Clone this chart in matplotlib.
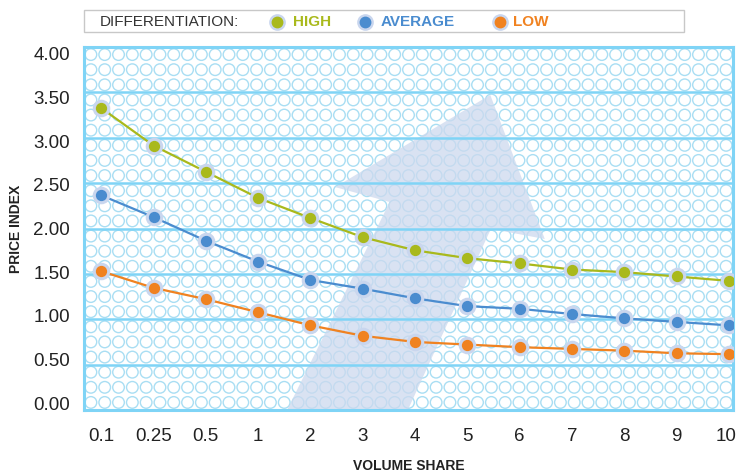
import matplotlib
matplotlib.use("Agg")
import matplotlib.pyplot as plt
import matplotlib.transforms as mtransforms
import numpy as np
from matplotlib.patches import Polygon, Rectangle

plt.rcParams['font.family'] = ['Liberation Sans Narrow', 'Liberation Sans', 'DejaVu Sans']

categories = ["0.1", "0.25", "0.5", "1", "2", "3", "4", "5", "6", "7", "8", "9", "10"]
high = [3.38, 2.95, 2.65, 2.35, 2.12, 1.90, 1.75, 1.66, 1.60, 1.53, 1.50, 1.45, 1.40]
average = [2.38, 2.13, 1.86, 1.62, 1.41, 1.31, 1.20, 1.11, 1.08, 1.02, 0.97, 0.93, 0.89]
low = [1.51, 1.32, 1.19, 1.04, 0.89, 0.77, 0.70, 0.67, 0.64, 0.62, 0.60, 0.57, 0.56]
yticks = [0.0, 0.5, 1.0, 1.5, 2.0, 2.5, 3.0, 3.5, 4.0]
series_names = ["HIGH", "AVERAGE", "LOW"]

c_high = "#a9b91c"
c_avg = "#4a8ccf"
c_low = "#f08220"
halo = "#c9d6ee"
grid_c = "#7fd4f6"
circ_c = "#a9def3"

fig = plt.figure(figsize=(7.36, 4.75), dpi=100)
ax = fig.add_axes([84/736, 1-410/475, 649/736, 363/475])
ax.set_xlim(-0.33, 12.08)
ax.set_ylim(-0.08, 4.08)

# background circle pattern
ncol, nband = 47, 8
xs = (np.arange(ncol) + 0.5) / ncol
ys = []
for b in range(nband):
    for r in range(3):
        ys.append((b + (r + 0.5) / 3) / nband)
X, Y = np.meshgrid(xs, ys)
ax.scatter(X.ravel(), Y.ravel(), s=70, facecolors='none', edgecolors=circ_c,
           linewidths=1.0, transform=ax.transAxes, zorder=1, clip_on=False)

# big arrow
arrow = [(0.626, 0.868), (0.710, 0.471), (0.627, 0.499), (0.499, 0.0),
         (0.313, 0.0), (0.471, 0.573), (0.387, 0.614)]
ax.add_patch(Polygon(arrow, closed=True, transform=ax.transAxes,
                     facecolor="#cdd9ee", edgecolor='none', alpha=0.75, zorder=1.2))

# horizontal bands
for k in range(1, nband):
    ax.plot([0, 1], [k/nband, k/nband], color=grid_c, lw=1.8,
            transform=ax.transAxes, zorder=1.5)
for s in ax.spines.values():
    s.set_color(grid_c)
    s.set_linewidth(2.2)

x = np.arange(len(categories))
for vals, col in [(high, c_high), (average, c_avg), (low, c_low)]:
    ax.plot(x, vals, color=col, lw=1.6, zorder=3)
    ax.scatter(x, vals, s=160, color=halo, zorder=3.5, linewidths=0)
    ax.scatter(x, vals, s=66, color=col, zorder=4, linewidths=0)

ax.set_xticks(x)
ax.set_xticklabels(categories)
ax.set_yticks(yticks)
ax.set_yticklabels([f"{v:.2f}" for v in yticks])
ax.tick_params(length=0, labelsize=13.5, colors="#222222")
ax.tick_params(axis='y', pad=10)
ax.tick_params(axis='x', pad=13)
last = ax.get_xticklabels()[-1]
last.set_ha('right')
last.set_transform(last.get_transform() + mtransforms.ScaledTranslation(8/100, 0, fig.dpi_scale_trans))

ax.set_ylabel("PRICE INDEX", fontsize=10, fontweight='bold', color="#222222",
              family=['Liberation Sans', 'DejaVu Sans'])
ax.yaxis.set_label_coords(-0.094, 0.5)
ax.set_xlabel("VOLUME SHARE", fontsize=10, fontweight='bold', color="#222222",
              family=['Liberation Sans', 'DejaVu Sans'])
ax.xaxis.label.set_va('center')
ax.xaxis.set_label_coords(0.5, -0.154)

# legend box
fig.patches.append(Rectangle((84/736, 1-32/475), 600/736, 22/475, transform=fig.transFigure,
                             facecolor='white', edgecolor='#c8c8c8', lw=1.0))
ly = 1 - 21.5/475
fig.text(100/736, ly, "DIFFERENTIATION:", fontsize=11, color="#333333", va='center', ha='left')
for name, col, dx, tx in [(series_names[0], c_high, 277, 293),
                          (series_names[1], c_avg, 365, 381),
                          (series_names[2], c_low, 500, 513)]:
    fig.lines.append(plt.Line2D([dx/736], [ly], marker='o', markersize=11, color=halo,
                                transform=fig.transFigure, linestyle='none'))
    fig.lines.append(plt.Line2D([dx/736], [ly], marker='o', markersize=7.5, color=col,
                                transform=fig.transFigure, linestyle='none'))
    fig.text(tx/736, ly, name, fontsize=11, color=col, fontweight='bold', va='center', ha='left',
             family=['Liberation Sans', 'DejaVu Sans'])

fig.savefig("out.png", dpi=100)
